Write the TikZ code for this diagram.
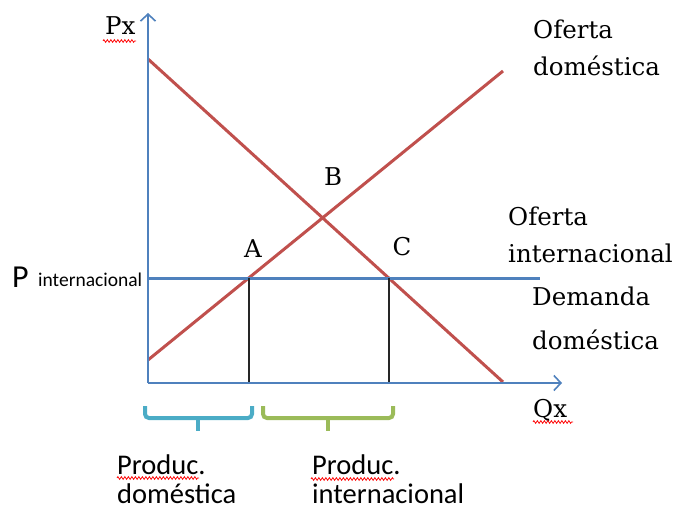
\documentclass[tikz,border=0pt]{standalone}
\usepackage{fontspec}
\setmainfont{DejaVu Serif}
\newfontfamily\calib{Carlito}
\usetikzlibrary{arrows.meta,intersections,decorations.pathmorphing}
\definecolor{axblue}{HTML}{4F81BD}
\definecolor{cred}{HTML}{C0504D}
\definecolor{bcyan}{HTML}{4BACC6}
\definecolor{bgreen}{HTML}{9BBB59}
\begin{document}
\begin{tikzpicture}[x=1pt,y=-1pt,
  lbl/.style={font=\fontsize{24.5}{30}\selectfont, anchor=base west, inner sep=0pt},
  pt/.style={font=\fontsize{24.5}{30}\selectfont, anchor=base, inner sep=0pt},
  slbl/.style={font=\calib\fontsize{28.5}{32}\selectfont, anchor=base west, inner sep=0pt, text depth=0pt},
  axis/.style={draw=axblue, line width=2pt, -{Straight Barb[length=7pt,width=15pt,line width=1.6pt]}},
  curve/.style={draw=cred, line width=3pt},
  pline/.style={draw=axblue, line width=3pt},
  drop/.style={draw=black!85, line width=2pt},
  brace/.style={line width=4pt, rounded corners=4pt},
  squig/.style={draw=red, line width=0.8pt, decorate, decoration={zigzag, amplitude=1.3pt, segment length=3.5pt}}]
\useasboundingbox (0,0) rectangle (681,511);
% key points
\coordinate (O) at (148,383);
\coordinate (Ytop) at (148,13);
\coordinate (Xend) at (562,383);
\coordinate (Dstart) at (148,59);
\coordinate (Dend) at (503,382);
\coordinate (Sstart) at (148,360);
\coordinate (Send) at (503,71);
\coordinate (Pstart) at (148,278);
\coordinate (Pend) at (540,278);
% curves
\path[curve, name path=demand] (Dstart) -- (Dend);
\path[curve, name path=supply] (Sstart) -- (Send);
\path[pline, name path=price] (Pstart) -- (Pend);
\path[name intersections={of=supply and price, by=A}];
\path[name intersections={of=demand and price, by=C}];
\draw[drop] (A) -- (A |- O);
\draw[drop] (C) -- (C |- O);
% axes
\draw[axis] (O) -- (Ytop);
\draw[axis] (O) -- (Xend);
% labels
\node[lbl] (px) at (105,35) {Px};
\node[lbl] (qx) at (533,417) {Qx};
\node[pt] (la) at (253,257) {A};
\node[pt] (lb) at (333,185) {B};
\node[pt] (lc) at (402,255) {C};
\node[lbl] (od1) at (533,39) {Oferta};
\node[lbl] (od2) at (533,76) {doméstica};
\node[lbl] (oi1) at (508,225) {Oferta};
\node[lbl] (oi2) at (508,262) {internacional};
\node[lbl] (dd1) at (532,305) {Demanda};
\node[lbl] (dd2) at (532,349) {doméstica};
\node[font=\calib\fontsize{32}{34}\selectfont, anchor=base west, inner sep=0pt] (pP) at (12,287) {P};
\node[font=\calib\fontsize{19.5}{22}\selectfont, anchor=base west, inner sep=0pt] (pint) at (38,286) {internacional};
\node[slbl] (pd1) at (117,474) {Produc.};
\node[slbl] (pd2) at (117,503) {doméstica};
\node[slbl] (pi1) at (312,474) {Produc.};
\node[slbl] (pi2) at (312,503) {internacional};
% braces
\draw[brace, draw=bcyan] (145,406) -- (145,418) -- (252,418) -- (252,406);
\draw[draw=bcyan, line width=4pt] (198,418) -- (198,431);
\draw[brace, draw=bgreen] (263,406) -- (263,418) -- (393,418) -- (393,406);
\draw[draw=bgreen, line width=4pt] (328,418) -- (328,431);
% spell-check squiggles
\draw[squig] (103,41) -- (136,41);
\draw[squig] (533,422) -- (573,422);
\draw[squig] (117,478) -- (199,478);
\draw[squig] (311,479) -- (394,479);
\end{tikzpicture}
\end{document}
